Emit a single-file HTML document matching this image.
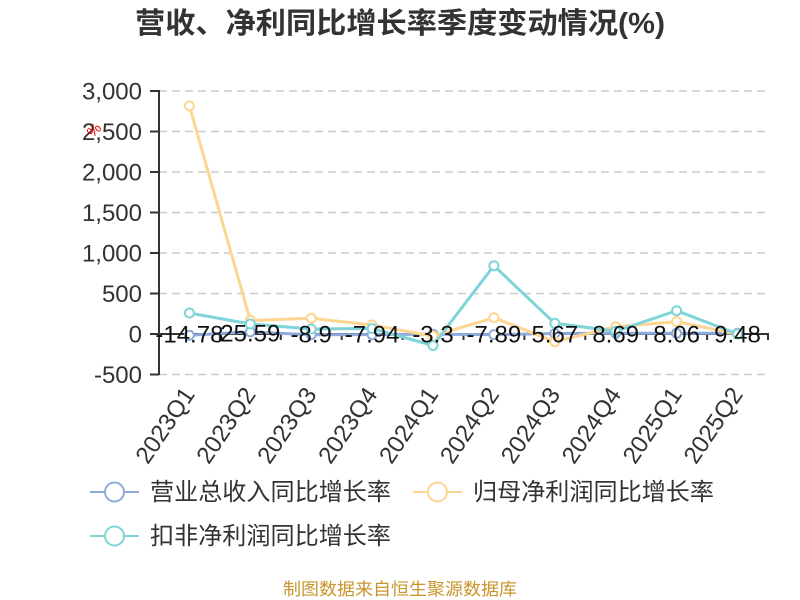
<!DOCTYPE html>
<html><head><meta charset="utf-8"><style>
html,body{margin:0;padding:0;background:#fff;}
svg{display:block;}
text{font-family:"Liberation Sans","Noto Sans CJK SC",sans-serif;}
</style></head><body>
<svg width="800" height="600" viewBox="0 0 800 600" xmlns="http://www.w3.org/2000/svg">
<rect width="800" height="600" fill="#fff"/>
<text x="400" y="33" text-anchor="middle" font-size="29" font-weight="bold" fill="#333" textLength="530" lengthAdjust="spacingAndGlyphs">营收、净利同比增长率季度变动情况(%)</text>

<g stroke="#ccc" stroke-width="1.5" stroke-dasharray="8,5">
<line x1="159" y1="91" x2="768" y2="91"/>
<line x1="159" y1="131.5" x2="768" y2="131.5"/>
<line x1="159" y1="172" x2="768" y2="172"/>
<line x1="159" y1="212.5" x2="768" y2="212.5"/>
<line x1="159" y1="253" x2="768" y2="253"/>
<line x1="159" y1="293.5" x2="768" y2="293.5"/>
<line x1="159" y1="374.5" x2="768" y2="374.5"/>
</g>

<g stroke="#333" stroke-width="2">
<line x1="159" y1="90" x2="159" y2="375"/>
<line x1="150" y1="91" x2="159" y2="91"/>
<line x1="150" y1="131.5" x2="159" y2="131.5"/>
<line x1="150" y1="172" x2="159" y2="172"/>
<line x1="150" y1="212.5" x2="159" y2="212.5"/>
<line x1="150" y1="253" x2="159" y2="253"/>
<line x1="150" y1="293.5" x2="159" y2="293.5"/>
<line x1="150" y1="334" x2="159" y2="334"/>
<line x1="150" y1="374.5" x2="159" y2="374.5"/>
<line x1="158" y1="334" x2="769" y2="334"/>
<line x1="159" y1="334" x2="159" y2="340"/>
<line x1="219.9" y1="334" x2="219.9" y2="340"/>
<line x1="280.8" y1="334" x2="280.8" y2="340"/>
<line x1="341.7" y1="334" x2="341.7" y2="340"/>
<line x1="402.6" y1="334" x2="402.6" y2="340"/>
<line x1="463.5" y1="334" x2="463.5" y2="340"/>
<line x1="524.4" y1="334" x2="524.4" y2="340"/>
<line x1="585.3" y1="334" x2="585.3" y2="340"/>
<line x1="646.2" y1="334" x2="646.2" y2="340"/>
<line x1="707.1" y1="334" x2="707.1" y2="340"/>
<line x1="768" y1="334" x2="768" y2="340"/>
</g>

<g font-size="24" fill="#333" text-anchor="end">
<text x="142" y="99.5">3,000</text>
<text x="142" y="140">2,500</text>
<text x="142" y="180.5">2,000</text>
<text x="142" y="221">1,500</text>
<text x="142" y="261.5">1,000</text>
<text x="142" y="302">500</text>
<text x="142" y="342.5">0</text>
<text x="142" y="383">-500</text>
</g>
<text x="94" y="135" font-size="15" fill="#e00" text-anchor="middle" transform="rotate(-45 94 130)">%</text>

<g font-size="24" fill="#333" text-anchor="end">
<text transform="translate(189 390) rotate(-56)" y="8">2023Q1</text>
<text transform="translate(249.9 390) rotate(-56)" y="8">2023Q2</text>
<text transform="translate(310.8 390) rotate(-56)" y="8">2023Q3</text>
<text transform="translate(371.7 390) rotate(-56)" y="8">2023Q4</text>
<text transform="translate(432.6 390) rotate(-56)" y="8">2024Q1</text>
<text transform="translate(493.5 390) rotate(-56)" y="8">2024Q2</text>
<text transform="translate(554.4 390) rotate(-56)" y="8">2024Q3</text>
<text transform="translate(615.3 390) rotate(-56)" y="8">2024Q4</text>
<text transform="translate(676.2 390) rotate(-56)" y="8">2025Q1</text>
<text transform="translate(737.1 390) rotate(-56)" y="8">2025Q2</text>
</g>

<!-- blue series -->
<polyline fill="none" stroke="#8eabdb" stroke-width="3" stroke-linejoin="round" points="189.4,335.2 250.3,331.9 311.2,334.7 372.1,334.6 433,334.3 493.9,334.6 554.8,333.5 615.7,333.3 676.6,333.3 737.5,333.2"/>
<g fill="#fff" stroke="#8eabdb" stroke-width="2">
<circle cx="189.4" cy="335.2" r="4.5"/><circle cx="250.3" cy="331.9" r="4.5"/><circle cx="311.2" cy="334.7" r="4.5"/><circle cx="372.1" cy="334.6" r="4.5"/><circle cx="433" cy="334.3" r="4.5"/><circle cx="493.9" cy="334.6" r="4.5"/><circle cx="554.8" cy="333.5" r="4.5"/><circle cx="615.7" cy="333.3" r="4.5"/><circle cx="676.6" cy="333.3" r="4.5"/><circle cx="737.5" cy="333.2" r="4.5"/>
</g>
<!-- orange series -->
<polyline fill="none" stroke="#ffd592" stroke-width="3" stroke-linejoin="round" points="189.4,106 250.3,320.5 311.2,318.3 372.1,325 433,336 493.9,317.7 554.8,341.7 615.7,326.7 676.6,321.7 737.5,334"/>
<g fill="#fff" stroke="#ffd592" stroke-width="2">
<circle cx="189.4" cy="106" r="4.5"/><circle cx="250.3" cy="320.5" r="4.5"/><circle cx="311.2" cy="318.3" r="4.5"/><circle cx="372.1" cy="325" r="4.5"/><circle cx="433" cy="336" r="4.5"/><circle cx="493.9" cy="317.7" r="4.5"/><circle cx="554.8" cy="341.7" r="4.5"/><circle cx="615.7" cy="326.7" r="4.5"/><circle cx="676.6" cy="321.7" r="4.5"/><circle cx="737.5" cy="334" r="4.5"/>
</g>
<!-- teal series -->
<polyline fill="none" stroke="#7fd4d8" stroke-width="3" stroke-linejoin="round" points="189.4,313 250.3,324 311.2,329 372.1,328.5 433,345.5 493.9,265.7 554.8,323.3 615.7,331.2 676.6,310.7 737.5,334"/>
<g fill="#fff" stroke="#7fd4d8" stroke-width="2">
<circle cx="189.4" cy="313" r="4.5"/><circle cx="250.3" cy="324" r="4.5"/><circle cx="311.2" cy="329" r="4.5"/><circle cx="372.1" cy="328.5" r="4.5"/><circle cx="433" cy="345.5" r="4.5"/><circle cx="493.9" cy="265.7" r="4.5"/><circle cx="554.8" cy="323.3" r="4.5"/><circle cx="615.7" cy="331.2" r="4.5"/><circle cx="676.6" cy="310.7" r="4.5"/><circle cx="737.5" cy="334" r="4.5"/>
</g>

<g font-size="24" fill="#111" text-anchor="middle">
<text x="189.4" y="342.5">-14.78</text>
<text x="250.3" y="341.5">25.59</text>
<text x="311.2" y="342.5">-8.9</text>
<text x="372.1" y="342.5">-7.94</text>
<text x="433" y="342.5">-3.3</text>
<text x="493.9" y="342.5">-7.89</text>
<text x="554.8" y="342.5">5.67</text>
<text x="615.7" y="342.5">8.69</text>
<text x="676.6" y="342.5">8.06</text>
<text x="737.5" y="342.5">9.48</text>
</g>

<!-- legend -->
<g stroke-width="2" fill="#fff">
<line x1="90" y1="492" x2="139" y2="492" stroke="#8eabdb"/>
<circle cx="114.5" cy="492" r="9.5" stroke="#8eabdb"/>
<line x1="413" y1="492" x2="462" y2="492" stroke="#ffd592"/>
<circle cx="437.5" cy="492" r="9.5" stroke="#ffd592"/>
<line x1="90" y1="536" x2="139" y2="536" stroke="#7fd4d8"/>
<circle cx="114.5" cy="536" r="9.5" stroke="#7fd4d8"/>
</g>
<g font-size="24" fill="#333">
<text x="150" y="500" textLength="241" lengthAdjust="spacingAndGlyphs">营业总收入同比增长率</text>
<text x="473" y="500" textLength="241" lengthAdjust="spacingAndGlyphs">归母净利润同比增长率</text>
<text x="150" y="544" textLength="241" lengthAdjust="spacingAndGlyphs">扣非净利润同比增长率</text>
</g>

<text x="400" y="595" font-size="17" fill="#c8952c" text-anchor="middle" textLength="234" lengthAdjust="spacingAndGlyphs">制图数据来自恒生聚源数据库</text>
</svg>
</body></html>
